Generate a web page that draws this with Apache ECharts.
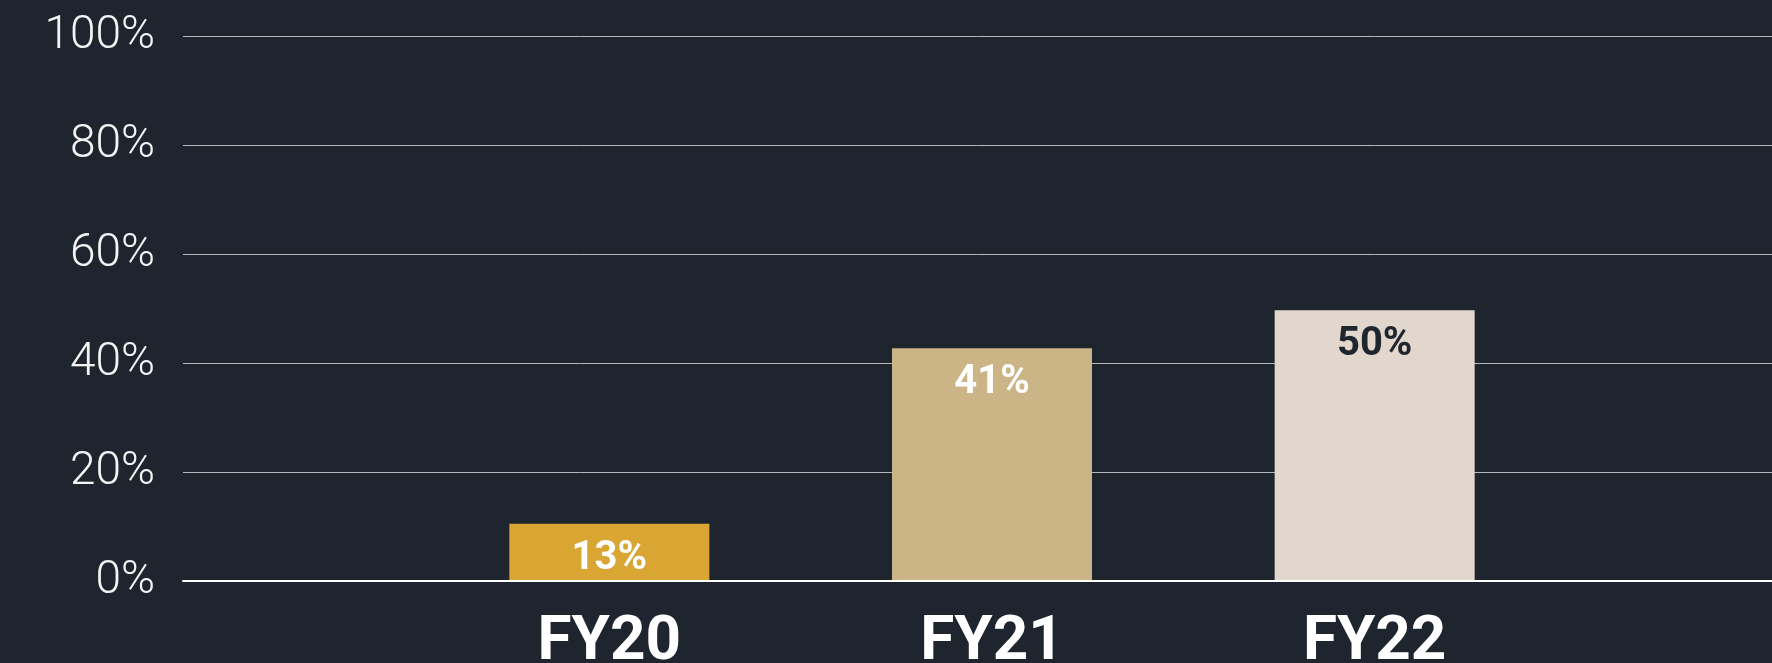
<!DOCTYPE html>
<html>
<head>
<meta charset="utf-8">
<script src="https://cdn.jsdelivr.net/npm/echarts@6/dist/echarts.min.js"></script>
<style>
  html, body { margin: 0; padding: 0; background: #1f252e; }
  #chart { width: 1772px; height: 663px; }
</style>
</head>
<body>
<div id="chart"></div>
<script>
// data
const years = ['FY20', 'FY21', 'FY22']
const barValues = [10.5, 42.7, 49.7]
const barLabels = ['13%', '41%', '50%']
const barColors = ['#d9a533', '#cbb587', '#e1d7cc']
const labelColors = ['#ffffff', '#ffffff', '#1f262e']
const yTicks = [0, 20, 40, 60, 80, 100]

const chart = echarts.init(document.getElementById('chart'))

const font = 'Roboto, "Noto Sans", sans-serif'

const option = {
  backgroundColor: '#1f252e',
  animation: false,
  grid: [
    { left: 183, right: 0, top: 36, bottom: 82, outerBoundsMode: 'none', containLabel: false },
    { left: 418, right: 206, top: 36, bottom: 82, outerBoundsMode: 'none', containLabel: false }
  ],
  xAxis: [
    {
      gridIndex: 0,
      type: 'category',
      data: [''],
      z: 3,
      axisLine: { show: true, lineStyle: { color: '#ffffff', width: 2 } },
      axisTick: { show: false },
      axisLabel: { show: false }
    },
    {
      gridIndex: 1,
      type: 'category',
      data: years,
      axisLine: { show: false },
      axisTick: { show: false },
      axisLabel: {
        color: '#ffffff',
        fontFamily: font,
        fontWeight: 'bold',
        fontSize: 62,
        lineHeight: 62,
        margin: 31
      }
    }
  ],
  yAxis: [
    {
      gridIndex: 0,
      type: 'value',
      min: yTicks[0],
      max: yTicks[yTicks.length - 1],
      interval: 20,
      axisLine: { show: false },
      axisTick: { show: false },
      axisLabel: {
        color: '#f4f4f4',
        fontFamily: font,
        fontWeight: 300,
        fontSize: 46,
        margin: 28,
        formatter: '{value}%'
      },
      splitLine: { lineStyle: { color: '#b4b8bd', width: 1 } }
    },
    {
      gridIndex: 1,
      type: 'value',
      min: yTicks[0],
      max: yTicks[yTicks.length - 1],
      interval: 20,
      show: false,
      splitLine: { show: false }
    }
  ],
  series: [
    {
      type: 'bar',
      xAxisIndex: 1,
      yAxisIndex: 1,
      barWidth: 200,
      z: 1,
      data: barValues.map((v, i) => ({
        value: v,
        itemStyle: { color: barColors[i] },
        label: { color: labelColors[i] }
      })),
      label: {
        show: true,
        position: 'insideTop',
        distance: 15,
        fontFamily: font,
        fontWeight: 'bold',
        fontSize: 40,
        formatter: (p) => barLabels[p.dataIndex]
      }
    }
  ]
}

chart.setOption(option)
</script>
</body>
</html>
